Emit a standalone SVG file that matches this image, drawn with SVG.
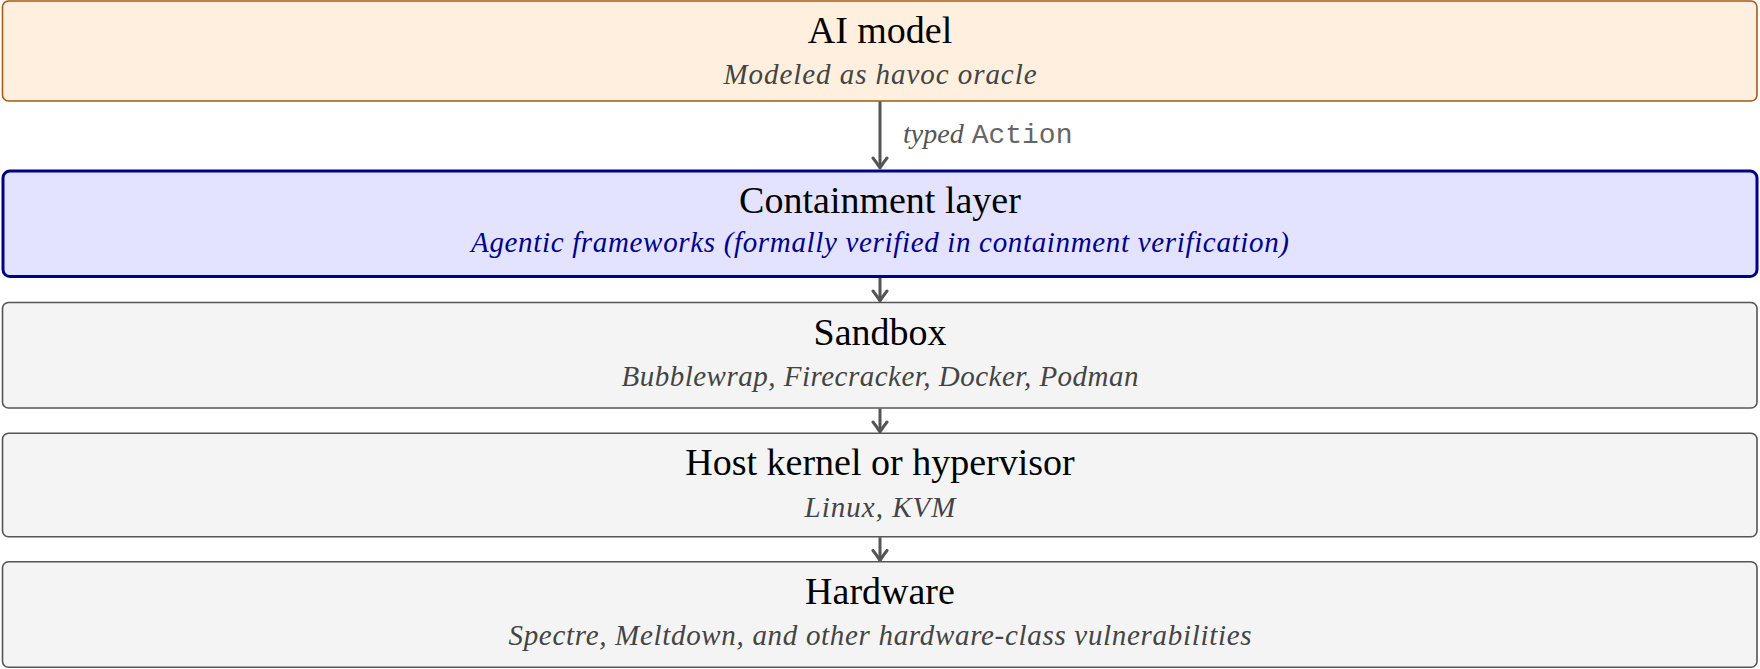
<svg xmlns="http://www.w3.org/2000/svg" width="1760" height="669" viewBox="0 0 1760 669">
<defs>
<style>
.title{font-family:"Liberation Serif","Times New Roman",serif;font-size:38px;fill:#000;text-anchor:middle}
.sub{font-family:"Liberation Serif","Times New Roman",serif;font-size:29px;font-style:italic;fill:#444;text-anchor:middle}
.subblue{fill:#00008b}
.gray{fill:#f4f4f4;stroke:#555;stroke-width:1.6}
.conn{stroke:#555;stroke-width:3;fill:none}
</style>
<marker id="arr" viewBox="-12 -9 14 18" markerWidth="14" markerHeight="18" refX="0" refY="0" orient="auto" markerUnits="userSpaceOnUse">
<path d="M-10,-7 Q-3.5,-2 0,0 Q-3.5,2 -10,7" fill="none" stroke="#555" stroke-width="3" stroke-linecap="round" stroke-linejoin="round"/>
</marker>
</defs>
<rect width="1760" height="669" fill="#fff"/>
<g id="ai-model">
<rect x="2.5" y="1" width="1754.5" height="100" rx="6" fill="#ffefdf" stroke="#a65a14" stroke-width="1.6"/>
<text class="title" x="880" y="43">AI model</text>
<text class="sub" x="880" y="83.5" textLength="313" lengthAdjust="spacing">Modeled as havoc oracle</text>
</g>
<g id="containment">
<rect x="3" y="171" width="1754" height="105.5" rx="7" fill="#e3e3ff" stroke="#00008b" stroke-width="3"/>
<text class="title" x="880" y="213">Containment layer</text>
<text class="sub subblue" x="880" y="252" textLength="818" lengthAdjust="spacing">Agentic frameworks (formally verified in containment verification)</text>
</g>
<g id="sandbox">
<rect x="2.5" y="302.5" width="1754.5" height="105.5" rx="6" class="gray"/>
<text class="title" x="880" y="344.5">Sandbox</text>
<text class="sub" x="880" y="386" textLength="517" lengthAdjust="spacing">Bubblewrap, Firecracker, Docker, Podman</text>
</g>
<g id="host-kernel">
<rect x="2.5" y="433.3" width="1754.5" height="103.4" rx="6" class="gray"/>
<text class="title" x="880" y="475">Host kernel or hypervisor</text>
<text class="sub" x="880" y="516.5" textLength="151" lengthAdjust="spacing">Linux, KVM</text>
</g>
<g id="hardware">
<rect x="2.5" y="561.7" width="1754.5" height="105.6" rx="6" class="gray"/>
<text class="title" x="880" y="603.5">Hardware</text>
<text class="sub" x="880" y="645" textLength="743" lengthAdjust="spacing">Spectre, Meltdown, and other hardware-class vulnerabilities</text>
</g>
<g id="connectors">
<line class="conn" x1="880" y1="101.5" x2="880" y2="168" marker-end="url(#arr)"/>
<line class="conn" x1="880" y1="278" x2="880" y2="301" marker-end="url(#arr)"/>
<line class="conn" x1="880" y1="408.5" x2="880" y2="432" marker-end="url(#arr)"/>
<line class="conn" x1="880" y1="537.3" x2="880" y2="560.5" marker-end="url(#arr)"/>
<text x="903" y="143" font-size="28" fill="#555"><tspan font-family="'Liberation Serif','Times New Roman',serif" font-style="italic">typed</tspan><tspan font-family="'Liberation Mono','Courier New',monospace" fill="#666" dx="8">Action</tspan></text>
</g>
</svg>
